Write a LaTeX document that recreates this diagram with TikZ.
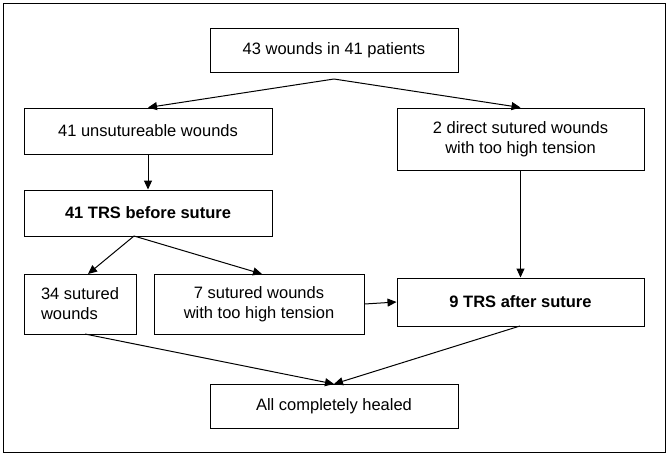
\documentclass[tikz,border=0pt]{standalone}
\usepackage{fontspec}
\setmainfont{Liberation Sans}
\usetikzlibrary{arrows.meta}
\begin{document}
\begin{tikzpicture}[x=1pt,y=-1pt,
  box/.style={draw,line width=1pt,align=center,inner sep=0pt,font=\fontsize{16.5}{20}\selectfont},
  arr/.style={-{Triangle[length=9pt,width=8pt]},line width=1pt}]
\useasboundingbox (0,0) rectangle (669,456);
\draw[line width=1pt] (3,3) rectangle (665,452);
\node[box,minimum width=248pt,minimum height=44pt] (top) at (334,50) {43 wounds in 41 patients};
\node[box,minimum width=248pt,minimum height=46pt] (uns) at (148,131) {41 unsutureable wounds};
\node[box,minimum width=247pt,minimum height=62pt] (dir) at (520.5,139) {2 direct sutured wounds\\with too high tension};
\node[box,minimum width=248pt,minimum height=46pt,font=\fontsize{16.5}{20}\selectfont\bfseries] (trs) at (148,213) {41 TRS before suture};
\node[box,minimum width=112pt,minimum height=60pt,align=left] (s34) at (80,304) {34 sutured\\wounds};
\node[box,minimum width=210pt,minimum height=60pt] (s7) at (259,304) {7 sutured wounds\\with too high tension};
\node[box,minimum width=247pt,minimum height=48pt,font=\fontsize{16.5}{20}\selectfont\bfseries] (trs9) at (520.5,302) {9 TRS after suture};
\node[box,minimum width=248pt,minimum height=44pt] (heal) at (334,406) {All completely healed};
\coordinate (tb) at (334,79);
\draw[arr] (tb) -- (uns.north);
\draw[arr] (tb) -- (dir.north);
\draw[arr] (uns) -- (trs);
\coordinate (tt) at (134,236);
\draw[arr] (tt) -- (88,274);
\draw[arr] (tt) -- (262,274);
\draw[arr] (s7.east) -- (trs9.west);
\draw[arr] (dir) -- (trs9);
\coordinate (hh) at (334,384);
\draw[arr] (85,334) -- (hh);
\draw[arr] (520,326) -- (hh);
\end{tikzpicture}
\end{document}
